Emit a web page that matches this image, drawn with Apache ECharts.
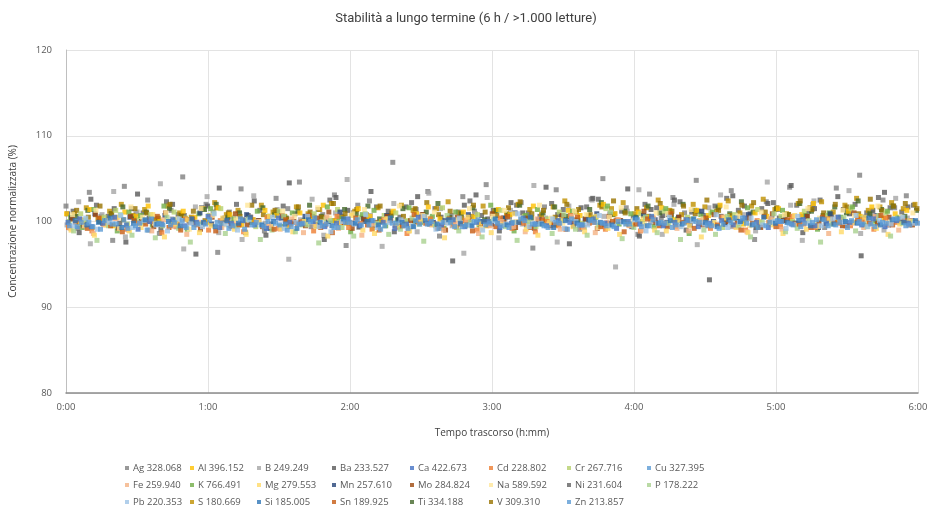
<!DOCTYPE html>
<html lang="it">
<head>
    <meta charset="UTF-8"/>
    <script src="https://cdn.jsdelivr.net/npm/echarts@6/dist/echarts.min.js"></script>
    <title>Stabilità a lungo termine</title>
    <style>
        html, body { margin: 0; padding: 0; background: #fff; }
        #chart { width: 932px; height: 529px; }
    </style>
</head>
<body>
<div id="chart"></div>
<script type="text/javascript">
    // nomi delle righe (elemento + lunghezza d'onda)
    var lineNames = ["Ag 328.068", "Al 396.152", "B 249.249", "Ba 233.527", "Ca 422.673", "Cd 228.802", "Cr 267.716", "Cu 327.395",
        "Fe 259.940", "K 766.491", "Mg 279.553", "Mn 257.610", "Mo 284.824", "Na 589.592", "Ni 231.604", "P 178.222",
        "Pb 220.353", "S 180.669", "Si 185.005", "Sn 189.925", "Ti 334.188", "V 309.310", "Zn 213.857"];
    var lineColors = ["#7f7f7f", "#ffc000", "#a5a5a5", "#595959", "#4472c4", "#ed7d31", "#b5cf6b", "#5b9bd5",
        "#f4b183", "#70ad47", "#ffd966", "#264478", "#9e480e", "#ffe699", "#636363", "#a9d18e",
        "#9dc3e6", "#bf9000", "#2e75b6", "#c55a11", "#43682b", "#997300", "#5b9bd5"];
    // ordine di disegno: i blu stanno sopra, come nel grafico originale
    var lineLayer = [1, 2, 1, 1, 4, 3, 2, 4, 3, 2, 3, 2, 2, 2, 1, 3, 4, 1, 4, 3, 1, 1, 4];
    var xTicks = ["0:00", "1:00", "2:00", "3:00", "4:00", "5:00", "6:00"];
    var durationMin = 360;

    // concentrazione normalizzata (%), in ordine di tempo
    var agVals = [101.8,99.2,103.4,100.6,97.8,104.1,100.9,102.5,98.6,101.3,105.2,99.7,102.0,96.4,101.1,103.8,100.2,98.9,102.7,101.5,104.6,99.4,100.8,103.1,97.2,101.9,102.4,100.0,106.9,99.6,101.4,103.5,98.3,100.7,102.9,101.2,104.3,99.8,100.5,102.2,96.9,101.7,103.7,100.3,99.1,102.6,105.0,100.9,101.6,98.5,103.2,100.4,102.8,101.0,104.8,99.5,101.8,103.6,100.1,97.9,102.3,101.4,104.0,100.6,102.0,99.3,103.9,101.2,105.4,100.8,102.5,101.6,103.0];
    var alVals = [100.9,99.8,101.4,100.3,99.5,101.1,100.6,101.8,100.0,99.7,101.2,100.5,99.9,101.6,100.8,99.6,100.2,101.3,100.7,99.4,101.0,100.4,101.9,100.1,99.8,101.5,100.6,100.0,101.2,99.7,100.9,101.7,100.3,99.9,101.1,100.5,99.5,101.4,100.8,100.2,101.8,100.0,99.6,101.3,100.7,100.4,102.0,100.9,99.8,101.1,100.5,101.6,100.2,99.9,101.3,100.7,101.9,100.4,99.7,101.0,100.6,101.5,100.1,100.8,102.1,100.3,99.9,101.2,100.6,101.7,100.4,100.9,101.3];
    var bVals = [99.6,102.3,97.4,100.8,103.5,98.2,101.1,99.0,104.4,100.3,96.8,101.7,102.9,98.7,100.5,97.9,103.0,99.8,101.4,95.6,100.2,102.6,98.4,101.0,104.9,99.3,100.7,97.1,102.1,100.0,98.8,103.3,101.5,99.5,96.3,100.9,102.8,98.1,101.3,99.7,104.2,100.4,97.6,101.8,99.2,102.5,100.6,94.7,101.2,103.7,99.9,98.5,102.0,100.3,97.3,101.6,103.1,99.4,100.8,98.9,104.6,100.1,101.9,97.8,102.4,99.6,100.5,103.6,98.6,101.1,99.0,102.7,100.4];
    var baVals = [100.9,98.7,102.6,99.8,101.5,97.6,103.2,100.4,99.1,102.0,100.7,96.2,101.8,103.9,99.5,100.2,102.4,98.4,101.1,104.5,99.9,100.6,97.9,102.8,101.3,99.4,103.5,100.0,98.8,101.7,102.9,99.7,100.5,95.4,101.9,103.1,100.3,98.9,102.2,101.0,99.2,104.0,100.8,97.4,101.6,102.7,99.6,100.1,103.8,98.3,101.4,100.7,102.5,99.0,101.2,93.2,100.6,103.0,101.8,99.3,102.1,100.4,104.2,98.7,101.5,99.8,102.9,100.9,96.0,101.3,103.4,100.2,101.7];
    var caVals = [99.9,100.3,99.4,99.8,100.5,99.6,99.1,100.0,99.7,100.2,99.5,99.9,100.6,99.3,99.8,100.1,99.6,99.2,100.4,99.9,99.7,100.0,99.4,99.8,100.3,99.5,100.1,99.9,99.2,99.7,100.5,99.8,99.6,100.2,99.4,99.9,100.0,99.3,99.8,100.4,99.7,99.5,100.1,99.9,99.6,100.3,99.8,99.2,100.0,99.7,100.6,99.5,99.9,100.2,99.4,99.8,100.1,99.6,100.4,99.9,99.3,100.0,99.7,100.2,99.5,99.8,100.5,99.9,99.6,100.3,99.4,100.1,99.8];
    var cdVals = [99.3,100.2,98.9,99.7,100.4,99.1,99.8,100.0,98.7,99.5,100.3,99.6,99.0,100.1,99.4,98.8,99.9,100.5,99.2,99.7,100.0,98.9,99.6,100.6,99.3,99.8,99.1,100.2,99.5,98.6,99.9,100.3,99.4,99.7,100.1,99.0,99.6,100.4,99.2,99.8,98.8,100.0,99.5,100.7,99.3,99.9,99.1,100.2,99.6,98.9,100.4,99.7,99.4,100.0,99.8,99.2,100.5,99.6,99.0,100.1,99.9,99.4,100.6,99.7,99.3,100.3,99.8,99.5,100.2,99.1,100.4,99.9,99.6];
    var crVals = [100.0,100.9,99.3,100.5,101.3,99.7,100.2,100.8,99.5,101.1,100.4,99.8,100.7,101.5,99.9,100.1,99.4,100.6,101.2,100.0,99.6,100.9,100.3,101.4,99.8,100.5,99.2,100.7,101.0,100.1,99.7,100.4,101.6,100.2,99.5,100.8,100.0,101.3,99.9,100.6,99.4,100.3,101.1,100.7,99.8,100.2,101.5,100.0,99.6,100.9,100.4,101.2,99.7,100.5,100.1,101.0,99.3,100.8,100.3,101.4,99.9,100.6,100.0,101.2,99.6,100.7,100.2,101.5,100.4,99.8,101.0,100.5,100.1];
    var cuVals = [99.5,99.9,99.4,100.1,99.7,99.2,99.8,100.3,99.6,99.9,99.3,99.7,100.2,99.8,99.5,99.1,99.9,100.0,99.6,99.4,99.8,100.4,99.7,99.3,99.9,99.6,100.1,99.5,99.8,99.2,99.7,100.0,99.9,99.4,99.6,100.2,99.8,99.5,99.9,100.1,99.7,99.3,99.8,100.3,99.6,99.9,99.5,100.0,99.7,99.4,100.2,99.8,99.6,100.1,99.9,99.5,99.7,100.4,99.8,99.3,99.9,100.0,99.6,99.8,100.2,99.5,99.9,100.1,99.7,99.4,99.8,100.3,99.6];
    var feVals = [99.2,100.1,98.6,99.6,100.4,99.0,99.8,98.9,100.2,99.4,98.5,99.9,100.6,99.3,99.7,98.8,100.0,99.5,99.1,100.3,98.7,99.6,100.5,99.2,99.9,98.4,99.7,100.1,99.3,98.9,100.4,99.6,99.0,99.8,100.2,98.6,99.5,100.0,99.4,98.8,100.3,99.7,99.1,100.6,99.3,98.7,99.9,100.2,99.5,99.0,100.4,99.8,99.2,98.9,100.1,99.6,100.5,99.4,98.8,99.9,100.3,99.1,99.7,100.0,99.5,98.6,100.2,99.8,99.3,100.6,99.6,99.0,100.1];
    var kVals = [100.5,99.3,101.4,100.0,98.9,101.1,100.7,99.6,101.8,100.2,99.1,100.9,101.5,99.8,100.3,98.7,101.2,100.6,99.4,101.0,100.1,99.7,101.7,100.4,98.8,100.8,101.3,99.5,100.2,101.6,99.9,100.6,99.2,101.1,100.0,99.6,101.9,100.3,98.9,100.7,101.4,99.8,100.1,101.2,99.3,100.5,101.8,99.7,100.9,100.0,99.4,101.5,100.3,98.6,100.8,101.1,99.9,100.4,101.6,99.5,100.2,101.3,99.8,100.7,99.1,101.0,100.5,101.7,99.6,100.1,101.2,100.4,99.9];
    var mgVals = [99.0,100.1,98.4,99.6,100.5,98.9,99.3,100.8,98.2,99.7,100.2,98.7,99.5,100.4,99.1,98.5,99.9,100.6,99.2,98.8,100.0,99.4,98.3,99.8,100.7,99.0,98.6,100.3,99.5,98.9,100.1,99.7,98.1,99.3,100.5,99.8,98.7,99.6,100.9,99.1,98.4,99.9,100.2,99.4,98.8,100.6,99.2,98.5,99.7,100.3,99.0,98.9,100.1,99.5,98.2,99.8,100.4,99.3,98.7,100.0,99.6,98.6,100.7,99.1,99.4,100.2,98.8,99.9,100.5,99.2,98.5,99.7,100.0];
    var mnVals = [100.4,99.6,100.9,100.1,99.3,100.5,100.0,99.8,100.7,99.4,100.2,101.0,99.7,100.3,99.5,100.8,100.1,99.2,100.4,99.9,100.6,99.5,100.0,101.1,99.8,100.3,99.6,100.7,100.2,99.4,100.5,99.9,100.1,99.3,100.8,100.0,99.7,100.4,101.0,99.6,100.2,99.9,100.6,99.5,100.3,100.9,99.8,100.1,99.4,100.7,100.2,99.9,100.5,99.6,101.2,100.0,99.7,100.4,100.8,99.5,100.3,100.1,99.8,100.6,99.3,100.9,100.2,99.9,100.5,100.7,99.6,100.3,100.1];
    var moVals = [100.3,99.5,100.8,99.9,99.2,100.6,100.0,99.4,101.0,99.7,100.2,99.1,100.5,99.8,100.9,99.6,100.1,99.3,100.7,100.0,99.5,100.4,101.1,99.8,99.2,100.3,99.9,100.6,99.4,100.1,100.8,99.7,99.0,100.5,100.2,99.6,100.9,99.9,99.3,100.4,100.0,99.5,100.7,99.8,100.3,99.2,100.6,100.1,99.7,101.2,99.9,99.4,100.5,100.2,99.6,100.8,100.0,99.8,100.4,99.3,100.9,100.1,99.7,100.6,99.9,100.3,99.5,101.0,100.2,99.8,100.5,100.0,99.6];
    var naVals = [100.8,99.5,101.3,100.1,99.2,101.7,100.5,99.8,101.0,100.3,99.1,101.5,100.7,99.6,100.2,101.9,100.0,99.4,101.2,100.6,99.9,101.6,100.4,99.3,100.9,101.4,99.7,100.3,101.8,99.5,100.7,101.1,99.9,100.2,101.5,99.2,100.6,101.3,100.0,99.6,101.9,100.4,99.8,101.2,100.8,99.3,100.5,101.6,100.1,99.7,101.0,100.9,99.4,101.4,100.3,99.9,101.7,100.6,99.5,101.1,100.2,100.8,99.6,101.5,100.4,99.8,101.3,100.7,100.1,101.8,99.9,100.5,101.0];
    var niVals = [101.2,100.1,101.9,100.6,99.8,101.5,101.0,100.3,102.3,100.8,99.9,101.6,101.1,100.4,102.0,100.7,101.3,99.7,101.8,100.9,100.2,101.4,102.5,100.6,101.0,100.0,101.7,101.2,100.5,102.2,100.8,101.5,99.9,101.1,102.4,100.7,101.3,100.4,101.9,101.0,100.6,102.1,101.4,100.2,101.7,102.6,100.9,101.2,100.5,102.0,101.6,100.8,102.3,101.1,100.7,101.8,102.7,101.3,100.9,101.5,102.2,100.6,101.9,101.2,102.5,100.8,101.4,102.0,101.0,102.8,101.6,101.1,101.9];
    var pVals = [98.9,100.2,97.8,99.5,100.8,98.4,99.9,98.1,100.5,99.2,97.6,99.7,101.0,98.6,99.4,100.3,97.9,99.0,100.6,98.8,99.6,97.5,100.1,99.3,98.3,100.9,99.8,98.5,99.1,100.4,97.7,99.5,100.7,98.9,99.9,98.2,100.2,99.4,97.8,100.0,99.7,98.6,100.8,99.1,98.4,99.6,101.1,98.0,99.3,100.5,98.7,99.8,97.9,100.3,99.0,98.5,100.6,99.5,98.2,99.9,100.9,98.8,99.2,100.1,97.6,99.7,100.4,98.9,99.4,100.7,98.3,99.8,100.0];
    var pbVals = [99.5,100.4,99.1,99.9,100.7,99.3,100.1,99.6,98.9,100.3,99.8,99.4,100.9,99.7,99.0,100.2,99.6,100.5,99.2,99.9,100.6,99.4,98.8,100.0,99.7,100.8,99.3,99.9,100.2,99.5,100.6,99.1,99.8,100.4,99.6,99.0,100.1,99.7,100.9,99.4,99.8,100.3,99.2,100.0,99.6,100.7,99.5,99.9,100.2,98.9,99.8,100.5,99.4,100.1,99.7,100.8,99.3,99.9,100.4,99.6,100.0,99.2,100.6,99.8,99.5,100.3,99.9,100.7,99.4,100.1,99.7,100.5,99.8];
    var sVals = [100.9,101.6,100.3,101.2,102.0,100.7,101.4,100.1,101.8,101.0,100.5,101.5,102.2,100.8,101.3,100.4,101.9,101.1,100.6,101.7,100.9,101.4,102.1,100.5,101.2,100.8,101.6,100.2,101.9,101.3,100.7,101.5,102.3,101.0,100.6,101.8,101.2,100.9,102.0,101.4,100.8,101.7,102.4,101.1,100.7,101.9,101.5,102.2,100.9,101.6,102.5,101.3,100.8,102.0,101.7,101.2,102.4,101.0,101.8,102.6,101.4,100.9,102.1,101.6,102.3,101.1,101.9,102.7,101.3,101.7,102.2,101.5,102.0];
    var siVals = [100.1,99.6,99.9,100.4,99.3,99.8,100.2,99.7,100.0,99.5,100.3,99.9,99.4,100.1,99.8,100.5,99.6,100.0,99.7,99.2,100.2,99.9,99.5,100.3,99.8,100.0,99.6,100.4,99.9,99.4,100.1,99.7,100.2,99.8,99.5,100.0,100.3,99.6,99.9,100.5,99.7,99.3,100.1,99.8,100.2,99.9,99.6,100.0,100.4,99.5,99.8,100.1,99.7,100.3,99.9,99.4,100.2,100.0,99.6,100.5,99.8,99.9,100.1,99.5,100.3,99.7,100.0,99.8,100.4,99.6,100.2,99.9,100.1];
    var snVals = [99.9,99.2,100.4,99.5,98.8,100.1,99.7,100.6,99.3,99.0,100.3,99.8,98.9,100.0,99.6,100.5,99.4,99.1,100.2,99.8,100.7,99.3,98.7,99.9,100.4,99.6,99.0,100.1,99.5,100.8,99.8,99.2,100.3,99.7,98.9,100.0,99.4,100.6,99.9,99.3,100.2,99.6,99.1,100.5,99.8,99.4,100.0,98.8,99.7,100.3,99.5,100.9,99.9,99.2,100.4,99.6,100.1,99.0,99.8,100.6,99.4,100.2,99.7,99.3,100.5,99.9,99.5,100.3,99.8,100.7,99.6,100.1,99.9];
    var tiVals = [100.6,101.3,100.0,100.9,101.7,100.3,101.1,99.8,101.5,100.7,100.2,101.4,102.0,100.5,101.0,99.9,101.6,100.8,100.4,101.2,101.9,100.6,100.1,101.4,100.9,101.8,100.3,100.7,101.5,100.0,101.1,102.1,100.5,100.9,101.6,100.2,101.3,100.8,101.9,100.4,101.0,101.7,100.6,100.1,101.4,102.2,100.8,101.2,100.5,101.8,101.0,100.7,102.0,101.3,100.4,101.6,100.9,102.3,101.1,100.6,101.5,100.8,102.1,101.2,100.7,101.7,101.0,102.4,100.9,101.4,101.8,100.6,101.3];
    var vVals = [101.3,100.5,101.8,100.9,100.2,101.5,101.0,100.4,102.0,100.7,101.2,100.1,101.6,101.0,100.6,101.9,100.8,101.3,100.3,101.7,101.1,100.5,102.1,100.9,101.4,100.2,101.8,101.0,100.6,101.5,102.2,100.8,101.2,100.4,101.9,101.1,100.7,101.6,102.3,100.9,101.3,100.5,102.0,101.4,100.8,101.7,102.4,101.0,101.5,100.6,102.1,101.2,101.8,100.9,102.5,101.3,100.7,101.9,102.2,101.1,101.6,100.8,102.4,101.4,101.0,102.0,101.7,100.9,102.6,101.3,101.8,102.1,101.5];
    var znVals = [99.4,99.9,99.1,99.7,100.2,99.5,99.0,99.8,99.6,100.1,99.3,99.7,99.9,99.2,100.3,99.6,99.4,99.8,99.0,99.7,100.0,99.5,99.3,99.9,100.2,99.6,99.1,99.8,99.5,100.1,99.7,99.2,99.9,99.4,100.0,99.6,99.8,99.3,100.3,99.7,99.5,99.9,99.1,99.6,100.1,99.8,99.4,99.7,100.2,99.5,99.9,99.3,99.8,100.0,99.6,99.2,99.9,100.4,99.7,99.5,100.1,99.8,99.4,99.9,100.2,99.6,99.3,100.0,99.7,99.9,100.3,99.5,99.8];

    var allVals = [agVals, alVals, bVals, baVals, caVals, cdVals, crVals, cuVals, feVals, kVals, mgVals, mnVals,
        moVals, naVals, niVals, pVals, pbVals, sVals, siVals, snVals, tiVals, vVals, znVals];

    var myChart = echarts.init(document.getElementById("chart"));

    // le righe sono lette in sequenza: ogni elemento ha il suo piccolo sfasamento nel tempo
    var series = [];
    var k, i;
    for (k = 0; k < allVals.length; k++) {
        var vals = allVals[k];
        var step = durationMin / vals.length;
        var pts = [];
        for (i = 0; i < vals.length; i++) {
            pts.push([(i + k / allVals.length) * step, vals[i]]);
        }
        series.push({
            name: lineNames[k],
            type: "scatter",
            symbol: "rect",
            symbolSize: 5,
            z: 2,
            zlevel: 0,
            itemStyle: { color: lineColors[k] },
            data: pts
        });
        series[k].z = 1 + lineLayer[k];
    }

    // legenda su 3 righe, colonne allineate come in Excel
    var colLeft = [120, 185, 252, 327, 405, 484, 562, 642];
    var legends = [];
    for (k = 0; k < colLeft.length; k++) {
        var items = [];
        for (i = k; i < lineNames.length; i += colLeft.length) {
            items.push(lineNames[i]);
        }
        legends.push({
            data: items,
            orient: "vertical",
            left: colLeft[k],
            top: 458,
            itemGap: 7,
            itemWidth: 4,
            itemHeight: 4,
            icon: "rect",
            selectedMode: false,
            textStyle: { fontSize: 9.5, color: "#595959", fontFamily: "Open Sans", padding: [0, 0, 0, -1] }
        });
    }

    var option = {
        animation: false,
        backgroundColor: "#fff",
        title: {
            text: "Stabilità a lungo termine (6 h / >1.000 letture)",
            left: "center",
            top: 7,
            textStyle: { fontSize: 13, fontWeight: "normal", color: "#404040", fontFamily: "Roboto" }
        },
        legend: legends,
        grid: { left: 62, right: 14, top: 50, bottom: 136 },
        xAxis: {
            type: "value",
            min: 0,
            max: durationMin,
            interval: 60,
            name: "Tempo trascorso (h:mm)",
            nameLocation: "middle",
            nameGap: 35,
            nameTextStyle: { fontSize: 10, color: "#404040", fontFamily: "Open Sans" },
            axisLine: { lineStyle: { color: "#8c8c8c", width: 1.5 } },
            axisTick: { show: false },
            axisLabel: {
                fontSize: 9.5,
                color: "#595959",
                margin: 9,
                fontFamily: "Open Sans",
                formatter: function (v) { return xTicks[Math.round(v / 60)]; }
            },
            splitLine: { show: true, lineStyle: { color: "#e3e3e3" } }
        },
        yAxis: {
            type: "value",
            min: 80,
            max: 120,
            interval: 10,
            name: "Concentrazione normalizzata (%)",
            nameLocation: "middle",
            nameGap: 48,
            nameTextStyle: { fontSize: 10, color: "#404040", fontFamily: "Open Sans" },
            axisLine: { show: true, lineStyle: { color: "#bfbfbf" } },
            axisTick: { show: false },
            axisLabel: { fontSize: 9.5, color: "#595959", margin: 14, fontFamily: "Open Sans" },
            splitLine: { lineStyle: { color: "#e3e3e3" } }
        },
        series: series
    };
    myChart.setOption(option);
</script>
</body>
</html>
